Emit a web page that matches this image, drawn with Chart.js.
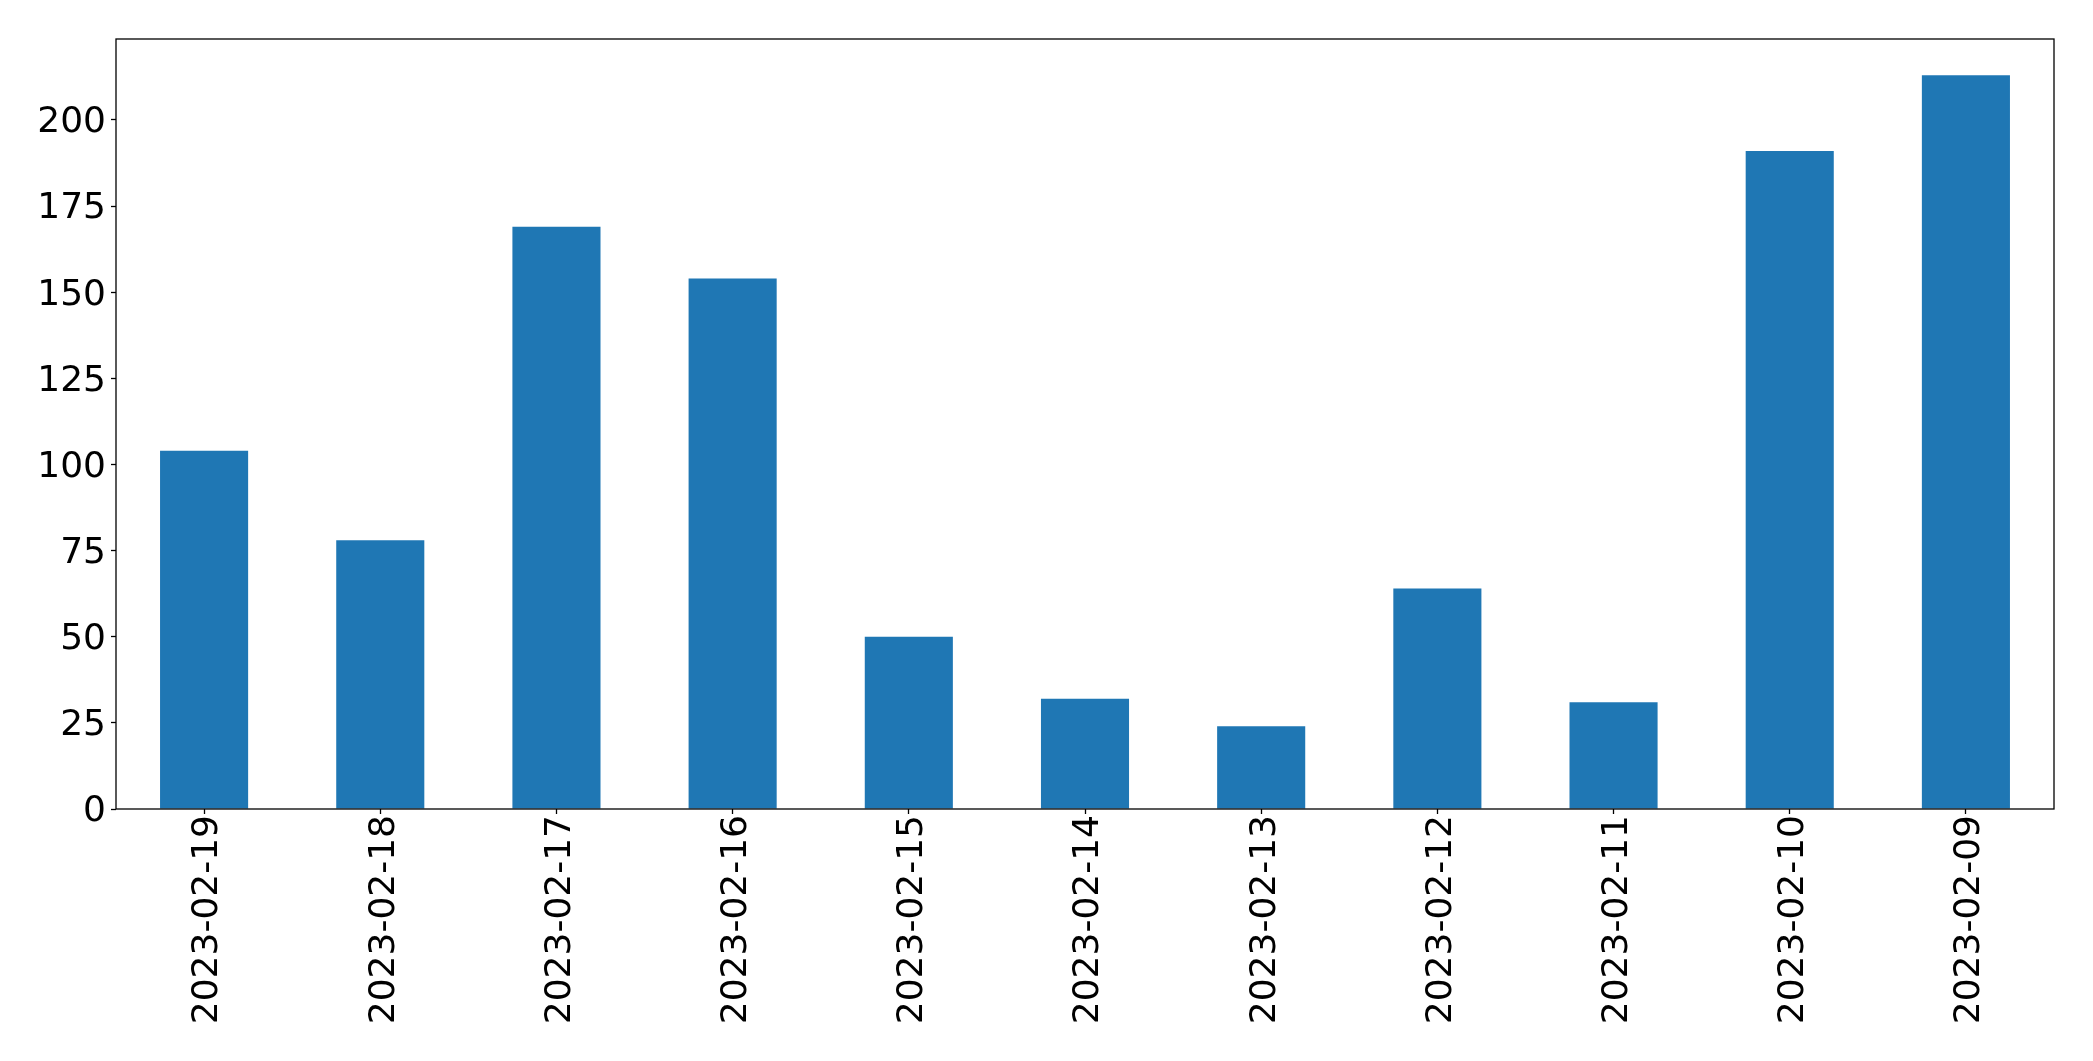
<!DOCTYPE html>
<html>
<head>
<meta charset="utf-8">
<script src="https://cdn.jsdelivr.net/npm/chart.js@4"></script>
<style>
  html, body { margin: 0; padding: 0; background: #fff; }
  #wrap { width: 2093px; height: 1061px; }
</style>
</head>
<body>
<div id="wrap"><canvas id="myChart" width="2093" height="1061"></canvas></div>
<script>
// dates as on the x axis (newest first)
const dates = ['2023-02-19', '2023-02-18', '2023-02-17', '2023-02-16', '2023-02-15',
  '2023-02-14', '2023-02-13', '2023-02-12', '2023-02-11', '2023-02-10', '2023-02-09'];
const counts = [104, 78, 169, 154, 50, 32, 24, 64, 31, 191, 213];
const yTicks = [0, 25, 50, 75, 100, 125, 150, 175, 200];
const yMax = 223.5;

const font = { family: 'DejaVu Sans', size: 36 };

// black frame round the plot area, like matplotlib's spines
const frame = {
  id: 'frame',
  afterDraw(chart) {
    const a = chart.chartArea;
    const c = chart.ctx;
    c.save();
    c.strokeStyle = '#000';
    c.lineWidth = 1.3;
    c.strokeRect(a.left, a.top, a.right - a.left, a.bottom - a.top);
    c.restore();
  }
};

let ctx = document.getElementById('myChart').getContext('2d');
let chart = new Chart(ctx, {
  type: 'bar',
  data: {
    labels: dates,
    datasets: [
      {
        data: counts,
        backgroundColor: '#1f77b4',
        borderWidth: 0,
        barPercentage: 0.5,
        categoryPercentage: 1.0
      }
    ]
  },
  options: {
    responsive: false,
    animation: false,
    layout: { padding: { top: 39, right: 39, left: 0, bottom: 0 } },
    plugins: { legend: { display: false }, tooltip: { enabled: false } },
    scales: {
      x: {
        offset: true,
        grid: { display: true, drawOnChartArea: false, offset: false, tickLength: 5, color: '#000', tickWidth: 1.3 },
        border: { display: false },
        ticks: { color: '#000', font: font, minRotation: 90, maxRotation: 90, padding: 1, labelOffset: 4, autoSkip: false },
        afterFit: s => { s.height = 252; }
      },
      y: {
        min: 0,
        max: yMax,
        grid: { display: true, drawOnChartArea: false, tickLength: 5, color: '#000', tickWidth: 1.3 },
        border: { display: false },
        afterBuildTicks: s => { s.ticks = yTicks.map(v => ({ value: v })); },
        ticks: { color: '#000', font: font, padding: 5, labelOffset: 3 },
        afterFit: s => { s.width = 116; }
      }
    }
  },
  plugins: [frame]
});
</script>
</body>
</html>
